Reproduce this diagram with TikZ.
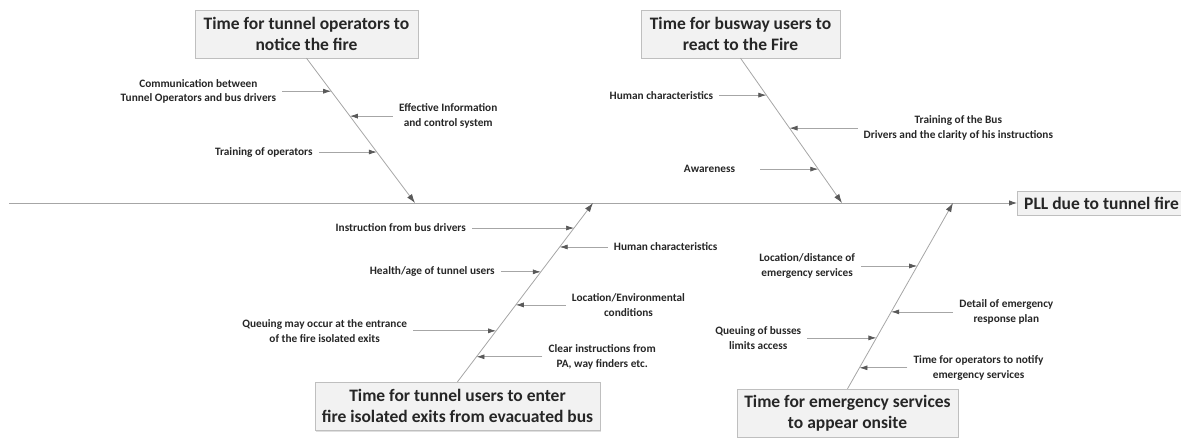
\documentclass[tikz,border=0pt]{standalone}
\usepackage{fontspec}
\setmainfont{Carlito}
\usetikzlibrary{arrows.meta,positioning,calc,shadows}
\definecolor{bonegray}{HTML}{A6A6A6}
\definecolor{tipgray}{HTML}{595959}
\definecolor{boxfill}{HTML}{F2F2F2}
\definecolor{boxline}{HTML}{BFBFBF}
\tikzset{
  effect/.style={rectangle,draw=boxline,fill=boxfill,align=center,text=black!85,
    font=\fontsize{17.5}{21}\selectfont\bfseries,minimum height=48pt,inner sep=3pt,
    drop shadow={shadow xshift=1.2pt,shadow yshift=-1.5pt,opacity=.25}},
  head/.style={effect,anchor=west,minimum height=24pt,inner xsep=7pt},
  cause/.style={align=center,text=black!85,font=\fontsize{11.3}{14.5}\selectfont\bfseries,
    inner xsep=6pt,inner ysep=1pt},
  spine/.style={line width=.8pt,bonegray,-{Latex[length=8pt,width=5.5pt,color=tipgray]}},
  bone/.style={line width=.8pt,bonegray,-{Latex[length=9pt,width=6pt,color=tipgray]}},
  branch/.style={line width=.7pt,bonegray,-{Latex[length=8pt,width=5pt,color=tipgray]}}
}

\begin{document}
\begin{tikzpicture}[x=1pt,y=-1pt]
  \useasboundingbox (0,0) rectangle (1181,438);

  \node[effect,minimum width=223pt] (opnotice) at (306.5,34) {Time for tunnel operators to\\notice the fire};
  \node[effect,minimum width=199pt] (usreact) at (740.5,34) {Time for busway users to\\react to the Fire};
  \node[effect,minimum width=285pt] (usenter) at (457.5,406) {Time for tunnel users to enter\\fire isolated exits from evacuated bus};
  \node[effect,minimum width=221pt] (emappear) at (847.5,413) {Time for emergency services\\to appear onsite};
  \node[head] (pll) at (1017,203) {PLL due to tunnel fire};

  % spine and main bones
  \coordinate (tail) at (9,203);
  \coordinate (j1) at (415,203);
  \coordinate (j2) at (842,203);
  \coordinate (j3) at (593,203);
  \coordinate (j4) at (953,203);
  \draw[spine] (tail) -- (pll.west);
  \draw[bone] (opnotice.south) -- (j1);
  \draw[bone] (usreact.south) -- (j2);
  \draw[bone] (usenter.north) -- (j3);
  \draw[bone] (emappear.north) -- (j4);

  % operators
  \coordinate (c1a) at ($(opnotice.south)!0.228!(j1)$);
  \coordinate (c1b) at ($(opnotice.south)!0.400!(j1)$);
  \coordinate (c1c) at ($(opnotice.south)!0.648!(j1)$);
  \node[cause,left=49pt of c1a] (comm) {Communication between\\Tunnel Operators and bus drivers};
  \node[cause,right=43pt of c1b] (infosys) {Effective Information\\and control system};
  \node[cause,left=58pt of c1c] (optrain) {Training of operators};
  \draw[branch] (comm) -- (c1a);
  \draw[branch] (infosys) -- (c1b);
  \draw[branch] (optrain) -- (c1c);

  % busway users
  \coordinate (c2a) at ($(usreact.south)!0.255!(j2)$);
  \coordinate (c2b) at ($(usreact.south)!0.483!(j2)$);
  \coordinate (c2c) at ($(usreact.south)!0.766!(j2)$);
  \node[cause,left=47pt of c2a] (humchar) {Human characteristics};
  \node[cause,right=68pt of c2b] (drvtrain) {Training of the Bus\\Drivers and the clarity of his instructions};
  \node[cause,left=58pt of c2c,inner xsep=25pt] (aware) {Awareness};
  \draw[branch] (humchar) -- (c2a);
  \draw[branch] (drvtrain) -- (c2b);
  \draw[branch] (aware) -- (c2c);

  % tunnel users
  \coordinate (c3a) at ($(usenter.north)!0.860!(j3)$);
  \coordinate (c3b) at ($(usenter.north)!0.754!(j3)$);
  \coordinate (c3c) at ($(usenter.north)!0.615!(j3)$);
  \coordinate (c3d) at ($(usenter.north)!0.430!(j3)$);
  \coordinate (c3e) at ($(usenter.north)!0.285!(j3)$);
  \coordinate (c3f) at ($(usenter.north)!0.140!(j3)$);
  \node[cause,left=102pt of c3a] (drvinstr) {Instruction from bus drivers};
  \node[cause,right=48pt of c3b] (humchartwo) {Human characteristics};
  \node[cause,left=40pt of c3c] (health) {Health/age of tunnel users};
  \node[cause,right=50pt of c3d] (envcond) {Location/Environmental\\conditions};
  \node[cause,left=83pt of c3e] (queue) {Queuing may occur at the entrance\\of the fire isolated exits};
  \node[cause,right=66pt of c3f] (painstr) {Clear instructions from\\PA, way finders etc.};
  \draw[branch] (drvinstr) -- (c3a);
  \draw[branch] (humchartwo) -- (c3b);
  \draw[branch] (health) -- (c3c);
  \draw[branch] (envcond) -- (c3d);
  \draw[branch] (queue) -- (c3e);
  \draw[branch] (painstr) -- (c3f);

  % emergency services
  \coordinate (c4a) at ($(emappear.north)!0.661!(j4)$);
  \coordinate (c4b) at ($(emappear.north)!0.414!(j4)$);
  \coordinate (c4c) at ($(emappear.north)!0.274!(j4)$);
  \coordinate (c4d) at ($(emappear.north)!0.113!(j4)$);
  \node[cause,left=56pt of c4a] (emdist) {Location/distance of\\emergency services};
  \node[cause,right=62pt of c4b] (emplan) {Detail of emergency\\response plan};
  \node[cause,left=69pt of c4c] (busqueue) {Queuing of busses\\limits access};
  \node[cause,right=48pt of c4d] (notify) {Time for operators to notify\\emergency services};
  \draw[branch] (emdist) -- (c4a);
  \draw[branch] (emplan) -- (c4b);
  \draw[branch] (busqueue) -- (c4c);
  \draw[branch] (notify) -- (c4d);
\end{tikzpicture}
\end{document}
